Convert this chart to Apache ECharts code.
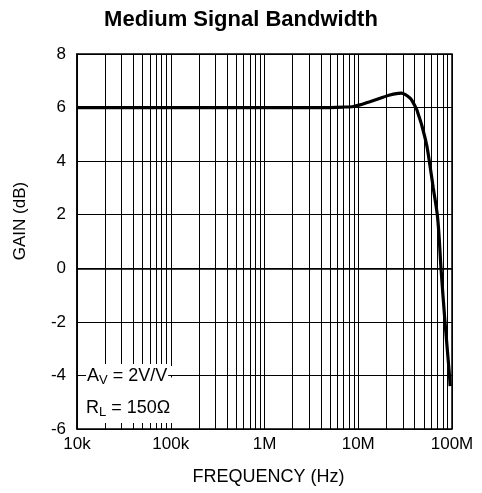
<!DOCTYPE html>
<html>
<head>
<meta charset="utf-8">
<script src="https://cdn.jsdelivr.net/npm/echarts@6/dist/echarts.min.js"></script>
<style>html,body{margin:0;padding:0;background:#fff;}#c{width:482px;height:493px;}</style>
</head>
<body>
<div id="c"></div>
<script>
// ---- data ----
const titleText = 'Medium Signal Bandwidth';
const xAxisName = 'FREQUENCY (Hz)';
const yAxisName = 'GAIN (dB)';
const xTickLabels = ['10k', '100k', '1M', '10M', '100M'];
const yTicks = [-6, -4, -2, 0, 2, 4, 6, 8];
const minorGridFreqs = [];
[1e4, 1e5, 1e6, 1e7].forEach(function (d) { for (let k = 2; k <= 9; k++) minorGridFreqs.push(d * k); });
const freqHz = [1e4, 1e5, 1e6, 4e6, 7e6, 8.9e6, 10.4e6, 13.3e6, 17.1e6, 21.8e6, 26.7e6, 29e6, 31.5e6, 35.6e6, 37.2e6, 42e6, 43.7e6, 47.5e6, 53.7e6, 57.3e6, 63.1e6, 69.7e6, 72.8e6, 76.3e6, 84.2e6, 94e6, 95.5e6];
const gainDb = [6.0, 6.0, 6.0, 6.0, 6.02, 6.04, 6.1, 6.22, 6.35, 6.47, 6.53, 6.54, 6.49, 6.36, 6.28, 5.93, 5.75, 5.35, 4.6, 4.0, 3.0, 2.0, 1.2, 0.0, -2.0, -4.0, -4.4];
const noteLine1 = { main: 'A', sub: 'V', rest: ' = 2V/V' };
const noteLine2 = { main: 'R', sub: 'L', rest: ' = 150Ω' };

// ---- chart ----
const font = '"Liberation Sans", Arial, Helvetica, sans-serif';
const chart = echarts.init(document.getElementById('c'), null, { renderer: 'canvas' });
const curve = freqHz.map(function (f, i) { return [f, gainDb[i]]; });

function noteRich() {
  return {
    m: { fontSize: 18, fontFamily: font, color: '#000' },
    s: { fontSize: 13, fontFamily: font, color: '#000', padding: [9, 0, 0, 0] },
    r: { fontSize: 18, fontFamily: font, color: '#000' }
  };
}
function whiteRect(x, y, w, h) {
  return { type: 'rect', zlevel: 1, z: 1, silent: true,
    shape: { x: x, y: y, width: w, height: h }, style: { fill: '#ffffff' } };
}

const option = {
  backgroundColor: '#fff',
  animation: false,
  title: {
    text: titleText, left: 'center', top: 4,
    textStyle: { fontFamily: font, fontSize: 22, fontWeight: 'bold', color: '#000' }
  },
  grid: { left: 77, right: 30, top: 54, bottom: 64, show: true, borderColor: '#000', borderWidth: 1.5, containLabel: false },
  xAxis: {
    type: 'log', logBase: 10, min: 1e4, max: 1e8,
    axisLine: { show: true, lineStyle: { color: '#000', width: 1.5 } },
    axisTick: { show: false },
    splitLine: { show: true, lineStyle: { color: '#000', width: 1 } },
    axisLabel: {
      fontFamily: font, fontSize: 17, color: '#000', margin: 7,
      formatter: function (v) { const i = Math.round(Math.log10(v)) - 4; return xTickLabels[i] || ''; }
    },
    name: xAxisName, nameLocation: 'middle', nameGap: 39,
    nameTextStyle: { fontFamily: font, fontSize: 18, color: '#000', padding: [0, 0, 0, 8] }
  },
  yAxis: {
    type: 'value', min: yTicks[0], max: yTicks[yTicks.length - 1], interval: 2,
    axisLine: { show: true, lineStyle: { color: '#000', width: 1.5 } },
    axisTick: { show: false },
    splitLine: { show: true, lineStyle: { color: '#000', width: 1 } },
    axisLabel: { fontFamily: font, fontSize: 17, color: '#000', margin: 11 }
  },
  graphic: [
    whiteRect(78, 366, 100, 9),
    whiteRect(78, 377.5, 100, 45.5),
    { type: 'text', x: 20, y: 221, rotation: Math.PI / 2,
      style: { text: yAxisName, font: '17px ' + font, fill: '#000', textAlign: 'center', textVerticalAlign: 'middle' } },
    { type: 'text', zlevel: 1, z: 5, x: 86, y: 376,
      style: { rich: noteRich(), text: '{m|' + noteLine1.main + '}{s|' + noteLine1.sub + '}{r|' + noteLine1.rest + '}', textVerticalAlign: 'middle', backgroundColor: '#fff', padding: [1, 1, 1, 1] } },
    { type: 'text', zlevel: 1, z: 5, x: 86, y: 408,
      style: { rich: noteRich(), text: '{m|' + noteLine2.main + '}{s|' + noteLine2.sub + '}{r|' + noteLine2.rest + '}', textVerticalAlign: 'middle' } }
  ],
  series: [
    {
      type: 'line', data: curve, showSymbol: false, smooth: 0.25, z: 5,
      lineStyle: { color: '#000', width: 3.2 },
      markLine: {
        silent: true, symbol: ['none', 'none'], label: { show: false },
        lineStyle: { color: '#000', width: 1, type: 'solid' },
        data: minorGridFreqs.map(function (f) { return { xAxis: f }; })
      }
    }
  ]
};
chart.setOption(option);
</script>
</body>
</html>
